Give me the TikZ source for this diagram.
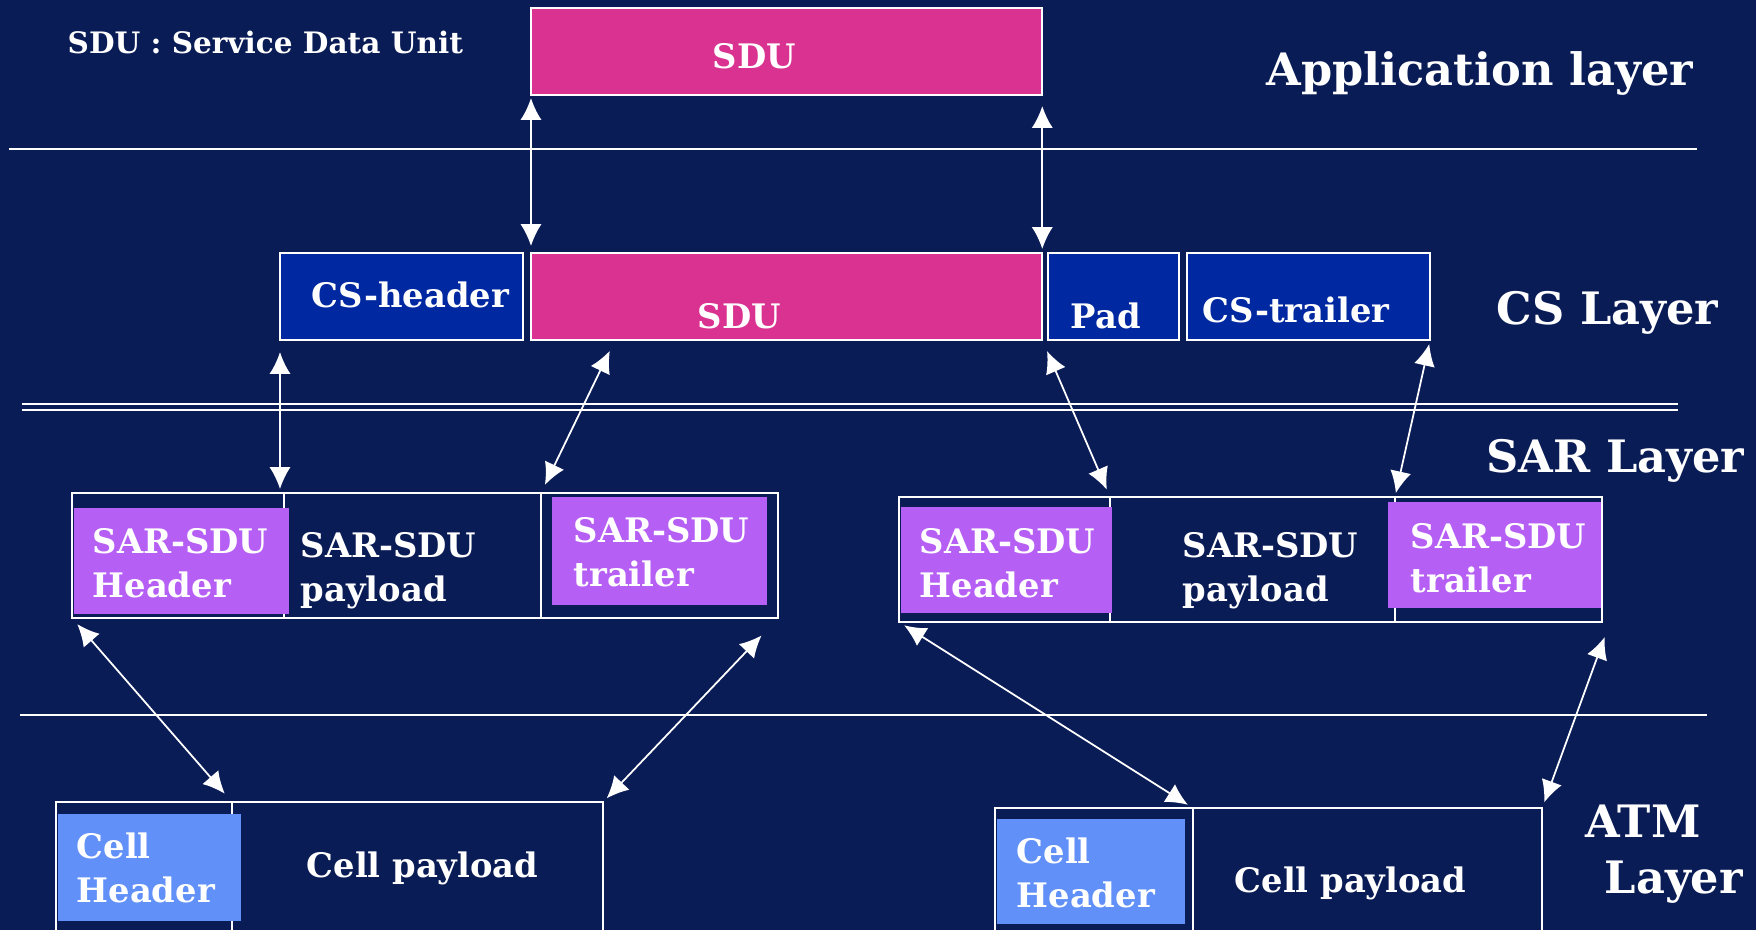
\documentclass[tikz,border=0pt]{standalone}
\usepackage{fontspec}
\setmainfont{DejaVu Serif}
\usetikzlibrary{arrows.meta}

\definecolor{bgnavy}{RGB}{10,28,86}
\definecolor{sdupink}{RGB}{217,50,144}
\definecolor{csblue}{RGB}{0,40,160}
\definecolor{sarpurple}{RGB}{182,95,245}
\definecolor{cellblue}{RGB}{96,144,248}

\tikzset{
  pdu/.style={draw=white, line width=0.6pt, inner sep=0pt, outer sep=0pt, anchor=north west, minimum height=#1},
  pdu/.default=0.87cm,
  lbl/.style={text=white, font=\fontsize{9.6}{12.5}\selectfont\bfseries, anchor=west, align=left, inner sep=0pt},
  layerlbl/.style={text=white, font=\fontsize{12.7}{16}\selectfont\bfseries, anchor=west, align=left, inner sep=0pt},
  sepline/.style={white, line width=0.6pt},
  link/.style={white, line width=0.5pt, {Latex[length=6.2pt,width=6pt]}-{Latex[length=6.2pt,width=6pt]}},
}

\begin{document}
\begin{tikzpicture}[x=0.01cm, y=-0.01cm]
      % Background
      \fill[bgnavy] (0,0) rectangle (1756,930);
      \useasboundingbox (0,0) rectangle (1756,930);

      % Layer separators
      \draw[sepline] (9,149) -- (1697,149);
      \draw[sepline] (22,404) -- (1678,404);
      \draw[sepline] (22,410) -- (1678,410);
      \draw[sepline] (20,715) -- (1707,715);

      % Legend
      \node[lbl, font=\fontsize{8.4}{10}\selectfont\bfseries] (legend) at (67,42) {SDU : Service Data Unit};

      % Application layer
      \node[pdu, fill=sdupink, minimum width=5.11cm] (appsdu) at (531,8) {};
      \node[lbl] (appsdutxt) at (712,56) {SDU};
      \node[layerlbl] (applbl) at (1266,73) {Application layer};

      % CS layer
      \node[pdu, fill=csblue, minimum width=2.43cm] (cshdr) at (280,253) {};
      \node[pdu, fill=sdupink, minimum width=5.11cm] (cssdu) at (531,253) {};
      \node[pdu, fill=csblue, minimum width=1.31cm] (cspad) at (1048,253) {};
      \node[pdu, fill=csblue, minimum width=2.43cm] (cstrl) at (1187,253) {};
      \node[lbl] (cshdrtxt) at (311,295) {CS-header};
      \node[lbl] (cssdutxt) at (697,316) {SDU};
      \node[lbl] (cspadtxt) at (1070,316) {Pad};
      \node[lbl] (cstrltxt) at (1202,310) {CS-trailer};
      \node[layerlbl] (cslbl) at (1496,313) {CS Layer};

      % SAR layer, left PDU
      \node[pdu=1.25cm, minimum width=2.12cm] (sarLh) at (72,493) {};
      \node[pdu=1.25cm, minimum width=2.57cm] (sarLp) at (284,493) {};
      \node[pdu=1.25cm, minimum width=2.37cm] (sarLt) at (541,493) {};
      \fill[sarpurple] (74,508) rectangle (289,614);
      \fill[sarpurple] (552,497) rectangle (767,605);
      \node[lbl] (sarLhtxt) at (92,563) {SAR-SDU\\Header};
      \node[lbl] (sarLptxt) at (300,571) {SAR-SDU\\payload};
      \node[lbl] (sarLttxt) at (573,552) {SAR-SDU\\trailer};

      % SAR layer, right PDU
      \node[pdu=1.25cm, minimum width=2.11cm] (sarRh) at (899,497) {};
      \node[pdu=1.25cm, minimum width=2.85cm] (sarRp) at (1110,497) {};
      \node[pdu=1.25cm, minimum width=2.07cm] (sarRt) at (1395,497) {};
      \fill[sarpurple] (901,507) rectangle (1112,613);
      \fill[sarpurple] (1388,502) rectangle (1601,608);
      \node[lbl] (sarRhtxt) at (919,563) {SAR-SDU\\Header};
      \node[lbl] (sarRptxt) at (1182,571) {SAR-SDU\\payload};
      \node[lbl] (sarRttxt) at (1410,558) {SAR-SDU\\trailer};
      \node[layerlbl] (sarlbl) at (1486,461) {SAR Layer};

      % ATM layer
      \node[pdu=1.40cm, minimum width=1.76cm] (atmLh) at (56,802) {};
      \node[pdu=1.40cm, minimum width=3.71cm] (atmLp) at (232,802) {};
      \fill[cellblue] (58,814) rectangle (241,921);
      \node[lbl] (atmLhtxt) at (76,868) {Cell\\Header};
      \node[lbl] (atmLptxt) at (306,868) {Cell payload};

      \node[pdu=1.40cm, minimum width=1.98cm] (atmRh) at (995,808) {};
      \node[pdu=1.40cm, minimum width=3.49cm] (atmRp) at (1193,808) {};
      \fill[cellblue] (997,819) rectangle (1185,924);
      \node[lbl] (atmRhtxt) at (1016,873) {Cell\\Header};
      \node[lbl] (atmRptxt) at (1234,883) {Cell payload};
      \node[layerlbl] (atmlbl) at (1585,854) {ATM\\\hspace*{5.4pt}Layer};

      % Mappings between layers
      \draw[link, shorten <=0.03cm, shorten >=0.07cm] (appsdu.south west) -- (cssdu.north west);
      \draw[link, shorten <=0.11cm, shorten >=0.04cm] (appsdu.south east) -- (cssdu.north east);
      \draw[link, shorten <=0.12cm, shorten >=0.04cm] (cshdr.south west) -- ([xshift=-0.04cm]sarLp.north west);
      \draw[link, shorten <=0.12cm, shorten >=0.09cm] ([xshift=0.84cm]cssdu.south west) -- (sarLt.north west);
      \draw[link, shorten <=0.12cm, shorten >=0.08cm] (cssdu.south east) -- (sarRp.north west);
      \draw[link, shorten <=0.04cm, shorten >=0.04cm] (cstrl.south east) -- (sarRt.north west);
      \draw[link, shorten <=0.08cm, shorten >=0.11cm] (sarLh.south west) -- (atmLp.north west);
      \draw[link, shorten <=0.24cm, shorten >=0.05cm] (sarLt.south east) -- (atmLp.north east);
      \draw[link, shorten <=0.06cm, shorten >=0.06cm] (sarRh.south west) -- (atmRp.north west);
      \draw[link, shorten <=0.16cm, shorten >=0.06cm] ([xshift=0.08cm]sarRt.south east) -- (atmRp.north east);
    \end{tikzpicture}
\end{document}
